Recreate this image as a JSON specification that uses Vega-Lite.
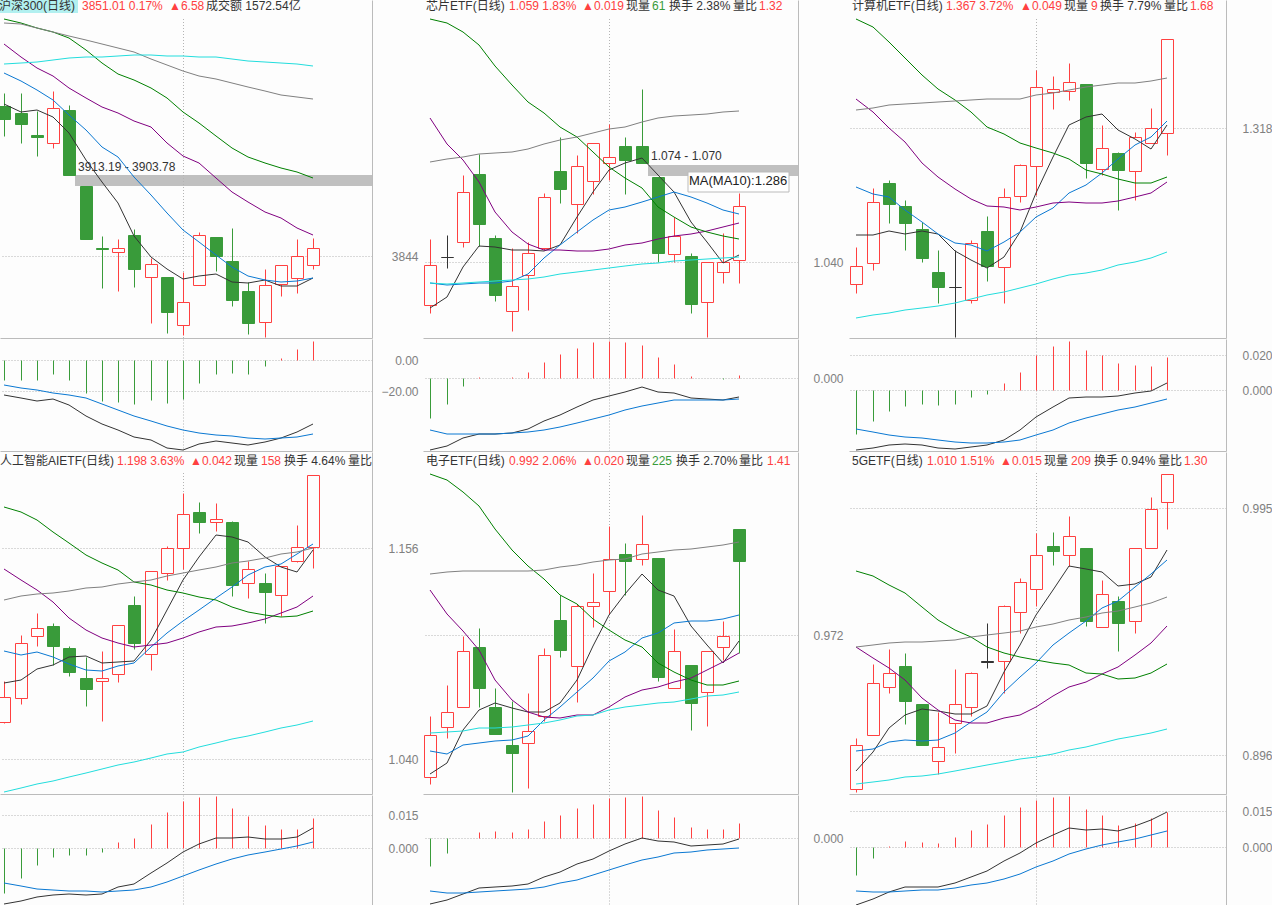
{
"$schema":"https://vega.github.io/schema/vega-lite/v6.json",
"background":"#fdfdfd","padding":0,
"config":{"view":{"stroke":null},"legend":{"disable":true},
"axis":{"title":null,"ticks":false,"domain":true,"domainColor":"#bbbbbb","domainWidth":1,"grid":true,"gridColor":"#b4b4b4","gridDash":[1,2],"gridWidth":1,"labelFont":"Liberation Sans","labelFontSize":12,"labelColor":"#808080","labelAlign":"right","labelBaseline":"middle"},
"line":{"strokeWidth":1},"rule":{"strokeWidth":1},
"text":{"font":"Liberation Sans, Noto Sans CJK SC","fontSize":12,"align":"left","baseline":"middle"}},
"datasets":{
"p1":[
{"i":0,"dir":"down","o":3971.5,"h":3982.3,"l":3946.0,"c":3960.7,"ma5":3972.9,"ma10":3999.3,"ma20":4023.9,"ma30":4045.2,"ma60":4041.8,"ma120":4006.9},
{"i":1,"dir":"down","o":3965.3,"h":3982.3,"l":3940.3,"c":3956.2,"ma5":3966.7,"ma10":3992.7,"ma20":4013.4,"ma30":4042.3,"ma60":4040.9,"ma120":4008.0},
{"i":2,"dir":"down","o":3946.8,"h":3967.2,"l":3929.0,"c":3945.4,"ma5":3968.1,"ma10":3985.1,"ma20":4003.5,"ma30":4037.5,"ma60":4037.5,"ma120":4008.9},
{"i":3,"dir":"up","o":3940.3,"h":3984.2,"l":3935.8,"c":3969.5,"ma5":3962.4,"ma10":3976.6,"ma20":3997.0,"ma30":4034.7,"ma60":4034.7,"ma120":4010.6},
{"i":4,"dir":"down","o":3968.1,"h":3972.3,"l":3913.19,"c":3913.19,"ma5":3948.3,"ma10":3963.8,"ma20":3986.5,"ma30":4029.0,"ma60":4031.3,"ma120":4012.0},
{"i":5,"dir":"down","o":3903.78,"h":3903.78,"l":3858.4,"c":3858.4,"ma5":3925.6,"ma10":3951.1,"ma20":3978.6,"ma30":4019.1,"ma60":4027.6,"ma120":4012.9},
{"i":6,"dir":"down","o":3850.5,"h":3861.0,"l":3817.1,"c":3850.2,"ma5":3907.2,"ma10":3936.9,"ma20":3970.9,"ma30":4007.8,"ma60":4024.2,"ma120":4012.9},
{"i":7,"dir":"up","o":3847.7,"h":3858.4,"l":3814.5,"c":3850.5,"ma5":3888.8,"ma10":3928.4,"ma20":3965.8,"ma30":3998.7,"ma60":4021.1,"ma120":4014.3},
{"i":8,"dir":"down","o":3861.8,"h":3866.7,"l":3817.9,"c":3832.9,"ma5":3861.0,"ma10":3911.4,"ma20":3959.0,"ma30":3993.6,"ma60":4017.1,"ma120":4014.8},
{"i":9,"dir":"up","o":3826.4,"h":3842.0,"l":3787.3,"c":3836.9,"ma5":3843.4,"ma10":3895.8,"ma20":3953.4,"ma30":3986.5,"ma60":4011.2,"ma120":4014.8},
{"i":10,"dir":"down","o":3826.1,"h":3826.1,"l":3778.8,"c":3796.4,"ma5":3832.7,"ma10":3880.3,"ma20":3939.8,"ma30":3978.0,"ma60":4006.3,"ma120":4014.3},
{"i":11,"dir":"up","o":3785.6,"h":3830.7,"l":3776.8,"c":3804.6,"ma5":3824.2,"ma10":3866.1,"ma20":3929.3,"ma30":3966.1,"ma60":4001.5,"ma120":4013.7},
{"i":12,"dir":"up","o":3819.6,"h":3864.1,"l":3819.6,"c":3861.6,"ma5":3827.0,"ma10":3856.2,"ma20":3922.8,"ma30":3956.8,"ma60":3997.0,"ma120":4013.4},
{"i":13,"dir":"down","o":3860.1,"h":3860.1,"l":3831.2,"c":3844.0,"ma5":3828.4,"ma10":3844.8,"ma20":3910.0,"ma30":3946.0,"ma60":3994.2,"ma120":4012.9},
{"i":14,"dir":"down","o":3839.7,"h":3867.5,"l":3801.8,"c":3806.6,"ma5":3822.2,"ma10":3834.9,"ma20":3898.7,"ma30":3935.5,"ma60":3990.8,"ma120":4011.4},
{"i":15,"dir":"down","o":3814.2,"h":3821.6,"l":3778.0,"c":3787.3,"ma5":3821.0,"ma10":3827.0,"ma20":3890.2,"ma30":3927.9,"ma60":3987.4,"ma120":4009.5},
{"i":16,"dir":"up","o":3788.2,"h":3832.7,"l":3775.4,"c":3819.1,"ma5":3823.6,"ma10":3823.6,"ma20":3881.7,"ma30":3922.8,"ma60":3984.5,"ma120":4008.6},
{"i":17,"dir":"up","o":3820.5,"h":3836.1,"l":3810.3,"c":3836.1,"ma5":3818.8,"ma10":3822.2,"ma20":3876.0,"ma30":3919.1,"ma60":3981.1,"ma120":4007.8},
{"i":18,"dir":"up","o":3825.6,"h":3858.4,"l":3812.8,"c":3843.7,"ma5":3818.5,"ma10":3822.7,"ma20":3867.5,"ma30":3915.7,"ma60":3979.4,"ma120":4006.9},
{"i":19,"dir":"up","o":3836.6,"h":3859.3,"l":3833.2,"c":3851.01,"ma5":3825.6,"ma10":3825.6,"ma20":3861.6,"ma30":3910.0,"ma60":3977.2,"ma120":4005.8}],
"p2":[
{"i":0,"dir":"up","o":1.0251,"h":1.0481,"l":1.0223,"c":1.0388,"ma5":1.0238,"ma10":1.0325,"ma20":1.0903,"ma30":1.1249,"ma60":1.0749,"ma120":1.0325},
{"i":1,"dir":"flat","o":1.0419,"h":1.0495,"l":1.0380,"c":1.0419,"ma5":1.0276,"ma10":1.0320,"ma20":1.0813,"ma30":1.1235,"ma60":1.0759,"ma120":1.0322},
{"i":2,"dir":"up","o":1.0471,"h":1.0705,"l":1.0453,"c":1.0644,"ma5":1.0384,"ma10":1.0323,"ma20":1.0757,"ma30":1.1204,"ma60":1.0769,"ma120":1.0325},
{"i":3,"dir":"down","o":1.0708,"h":1.0777,"l":1.0457,"c":1.0534,"ma5":1.0457,"ma10":1.0327,"ma20":1.0681,"ma30":1.1160,"ma60":1.0777,"ma120":1.0330},
{"i":4,"dir":"down","o":1.0484,"h":1.0495,"l":1.0264,"c":1.0285,"ma5":1.0454,"ma10":1.0328,"ma20":1.0574,"ma30":1.1086,"ma60":1.0780,"ma120":1.0334},
{"i":5,"dir":"up","o":1.0230,"h":1.0448,"l":1.0159,"c":1.0315,"ma5":1.0442,"ma10":1.0334,"ma20":1.0506,"ma30":1.1020,"ma60":1.0786,"ma120":1.0337},
{"i":6,"dir":"up","o":1.0356,"h":1.0469,"l":1.0232,"c":1.0430,"ma5":1.0441,"ma10":1.0358,"ma20":1.0462,"ma30":1.0961,"ma60":1.0796,"ma120":1.0342},
{"i":7,"dir":"up","o":1.0450,"h":1.0642,"l":1.0442,"c":1.0626,"ma5":1.0439,"ma10":1.0413,"ma20":1.0442,"ma30":1.0920,"ma60":1.0813,"ma120":1.0349},
{"i":8,"dir":"down","o":1.0719,"h":1.0838,"l":1.0608,"c":1.0656,"ma5":1.0460,"ma10":1.0460,"ma20":1.0441,"ma30":1.0871,"ma60":1.0827,"ma120":1.0358},
{"i":9,"dir":"up","o":1.0604,"h":1.0775,"l":1.0503,"c":1.0735,"ma5":1.0559,"ma10":1.0506,"ma20":1.0440,"ma30":1.0839,"ma60":1.0839,"ma120":1.0364},
{"i":10,"dir":"up","o":1.0685,"h":1.0815,"l":1.0639,"c":1.0815,"ma5":1.0646,"ma10":1.0547,"ma20":1.0437,"ma30":1.0786,"ma60":1.0853,"ma120":1.0371},
{"i":11,"dir":"up","o":1.0745,"h":1.0884,"l":1.0687,"c":1.0766,"ma5":1.0722,"ma10":1.0582,"ma20":1.0444,"ma30":1.0734,"ma60":1.0864,"ma120":1.0378},
{"i":12,"dir":"down","o":1.0806,"h":1.0838,"l":1.0638,"c":1.0757,"ma5":1.0745,"ma10":1.0594,"ma20":1.0460,"ma30":1.0693,"ma60":1.0874,"ma120":1.0386},
{"i":13,"dir":"down","o":1.0806,"h":1.1006,"l":1.0747,"c":1.0747,"ma5":1.0763,"ma10":1.0611,"ma20":1.0468,"ma30":1.0658,"ma60":1.0891,"ma120":1.0393},
{"i":14,"dir":"down","o":1.0698,"h":1.0698,"l":1.0399,"c":1.0432,"ma5":1.0705,"ma10":1.0629,"ma20":1.0479,"ma30":1.0594,"ma60":1.0903,"ma120":1.0398},
{"i":15,"dir":"up","o":1.0429,"h":1.0559,"l":1.0401,"c":1.0492,"ma5":1.0646,"ma10":1.0646,"ma20":1.0491,"ma30":1.0559,"ma60":1.0910,"ma120":1.0404},
{"i":16,"dir":"down","o":1.0421,"h":1.0430,"l":1.0222,"c":1.0253,"ma5":1.0541,"ma10":1.0629,"ma20":1.0498,"ma30":1.0524,"ma60":1.0915,"ma120":1.0408},
{"i":17,"dir":"up","o":1.0261,"h":1.0401,"l":1.0138,"c":1.0399,"ma5":1.0471,"ma10":1.0605,"ma20":1.0510,"ma30":1.0504,"ma60":1.0919,"ma120":1.0411},
{"i":18,"dir":"up","o":1.0366,"h":1.0500,"l":1.0327,"c":1.0399,"ma5":1.0395,"ma10":1.0582,"ma20":1.0521,"ma30":1.0491,"ma60":1.0924,"ma120":1.0413},
{"i":19,"dir":"up","o":1.0408,"h":1.0642,"l":1.0327,"c":1.0595,"ma5":1.0425,"ma10":1.0568,"ma20":1.0535,"ma30":1.0482,"ma60":1.0927,"ma120":1.0416}],
"p3":[
{"i":0,"dir":"up","o":1.2324,"h":1.2526,"l":1.2273,"c":1.2419,"ma5":1.2590,"ma10":1.2857,"ma20":1.3338,"ma30":1.3778,"ma60":1.3277,"ma120":1.2133},
{"i":1,"dir":"up","o":1.2439,"h":1.2848,"l":1.2399,"c":1.2771,"ma5":1.2590,"ma10":1.2817,"ma20":1.3270,"ma30":1.3737,"ma60":1.3292,"ma120":1.2151},
{"i":2,"dir":"down","o":1.2877,"h":1.2894,"l":1.2657,"c":1.2762,"ma5":1.2613,"ma10":1.2802,"ma20":1.3178,"ma30":1.3655,"ma60":1.3305,"ma120":1.2164},
{"i":3,"dir":"down","o":1.2751,"h":1.2784,"l":1.2509,"c":1.2657,"ma5":1.2595,"ma10":1.2729,"ma20":1.3105,"ma30":1.3563,"ma60":1.3312,"ma120":1.2179},
{"i":4,"dir":"down","o":1.2624,"h":1.2665,"l":1.2443,"c":1.2465,"ma5":1.2613,"ma10":1.2665,"ma20":1.2989,"ma30":1.3471,"ma60":1.3319,"ma120":1.2190},
{"i":5,"dir":"down","o":1.2388,"h":1.2509,"l":1.2217,"c":1.2305,"ma5":1.2595,"ma10":1.2595,"ma20":1.2912,"ma30":1.3393,"ma60":1.3325,"ma120":1.2203},
{"i":6,"dir":"flat","o":1.2305,"h":1.2509,"l":1.2030,"c":1.2304,"ma5":1.2504,"ma10":1.2546,"ma20":1.2843,"ma30":1.3334,"ma60":1.3330,"ma120":1.2219},
{"i":7,"dir":"up","o":1.2236,"h":1.2564,"l":1.2219,"c":1.2546,"ma5":1.2454,"ma10":1.2537,"ma20":1.2790,"ma30":1.3270,"ma60":1.3334,"ma120":1.2239},
{"i":8,"dir":"down","o":1.2613,"h":1.2696,"l":1.2338,"c":1.2421,"ma5":1.2408,"ma10":1.2504,"ma20":1.2753,"ma30":1.3187,"ma60":1.3338,"ma120":1.2261},
{"i":9,"dir":"up","o":1.2417,"h":1.2848,"l":1.2217,"c":1.2799,"ma5":1.2472,"ma10":1.2551,"ma20":1.2747,"ma30":1.3145,"ma60":1.3338,"ma120":1.2276},
{"i":10,"dir":"up","o":1.2808,"h":1.2982,"l":1.2773,"c":1.2975,"ma5":1.2610,"ma10":1.2606,"ma20":1.2727,"ma30":1.3096,"ma60":1.3341,"ma120":1.2298},
{"i":11,"dir":"up","o":1.2973,"h":1.3499,"l":1.2812,"c":1.3404,"ma5":1.2821,"ma10":1.2692,"ma20":1.2747,"ma30":1.3068,"ma60":1.3360,"ma120":1.2322},
{"i":12,"dir":"up","o":1.3380,"h":1.3466,"l":1.3285,"c":1.3393,"ma5":1.3022,"ma10":1.2742,"ma20":1.2768,"ma30":1.3041,"ma60":1.3372,"ma120":1.2348},
{"i":13,"dir":"up","o":1.3382,"h":1.3538,"l":1.3334,"c":1.3431,"ma5":1.3198,"ma10":1.2821,"ma20":1.2771,"ma30":1.3008,"ma60":1.3389,"ma120":1.2370},
{"i":14,"dir":"down","o":1.3422,"h":1.3422,"l":1.2905,"c":1.2988,"ma5":1.3242,"ma10":1.2867,"ma20":1.2766,"ma30":1.2949,"ma60":1.3404,"ma120":1.2384},
{"i":15,"dir":"up","o":1.2956,"h":1.3197,"l":1.2922,"c":1.3068,"ma5":1.3257,"ma10":1.2931,"ma20":1.2766,"ma30":1.2927,"ma60":1.3418,"ma120":1.2399},
{"i":16,"dir":"down","o":1.3041,"h":1.3046,"l":1.2729,"c":1.2949,"ma5":1.3169,"ma10":1.3008,"ma20":1.2777,"ma30":1.2898,"ma60":1.3426,"ma120":1.2425},
{"i":17,"dir":"up","o":1.2945,"h":1.3158,"l":1.2786,"c":1.3129,"ma5":1.3118,"ma10":1.3087,"ma20":1.2799,"ma30":1.2877,"ma60":1.3429,"ma120":1.2443},
{"i":18,"dir":"up","o":1.3099,"h":1.3290,"l":1.3096,"c":1.3178,"ma5":1.3063,"ma10":1.3132,"ma20":1.2824,"ma30":1.2879,"ma60":1.3438,"ma120":1.2467},
{"i":19,"dir":"up","o":1.3151,"h":1.3668,"l":1.3032,"c":1.3668,"ma5":1.3197,"ma10":1.3219,"ma20":1.2885,"ma30":1.2909,"ma60":1.3453,"ma120":1.2496}],
"p4":[
{"i":0,"dir":"up","o":1.0605,"h":1.0829,"l":1.0600,"c":1.0739,"ma5":1.0816,"ma10":1.0992,"ma20":1.1443,"ma30":1.1784,"ma60":1.1273,"ma120":1.0217},
{"i":1,"dir":"up","o":1.0737,"h":1.1082,"l":1.0703,"c":1.1036,"ma5":1.0835,"ma10":1.0970,"ma20":1.1385,"ma30":1.1757,"ma60":1.1297,"ma120":1.0239},
{"i":2,"dir":"up","o":1.1075,"h":1.1203,"l":1.1022,"c":1.1119,"ma5":1.0895,"ma10":1.0987,"ma20":1.1330,"ma30":1.1715,"ma60":1.1308,"ma120":1.0261},
{"i":3,"dir":"down","o":1.1132,"h":1.1148,"l":1.0917,"c":1.1023,"ma5":1.0917,"ma10":1.0963,"ma20":1.1265,"ma30":1.1650,"ma60":1.1315,"ma120":1.0281},
{"i":4,"dir":"down","o":1.1009,"h":1.1022,"l":1.0857,"c":1.0880,"ma5":1.0959,"ma10":1.0921,"ma20":1.1174,"ma30":1.1586,"ma60":1.1324,"ma120":1.0303},
{"i":5,"dir":"down","o":1.0846,"h":1.0963,"l":1.0692,"c":1.0787,"ma5":1.0965,"ma10":1.0891,"ma20":1.1110,"ma30":1.1522,"ma60":1.1339,"ma120":1.0325},
{"i":6,"dir":"up","o":1.0831,"h":1.0994,"l":1.0609,"c":1.0844,"ma5":1.0926,"ma10":1.0882,"ma20":1.1064,"ma30":1.1476,"ma60":1.1348,"ma120":1.0345},
{"i":7,"dir":"up","o":1.0866,"h":1.1135,"l":1.0824,"c":1.1135,"ma5":1.0934,"ma10":1.0912,"ma20":1.1036,"ma30":1.1440,"ma60":1.1363,"ma120":1.0367},
{"i":8,"dir":"down","o":1.1245,"h":1.1297,"l":1.1003,"c":1.1040,"ma5":1.0937,"ma10":1.0926,"ma20":1.1018,"ma30":1.1375,"ma60":1.1374,"ma120":1.0385},
{"i":9,"dir":"up","o":1.0976,"h":1.1432,"l":1.0890,"c":1.1432,"ma5":1.1055,"ma10":1.1018,"ma20":1.1029,"ma30":1.1357,"ma60":1.1385,"ma120":1.0404},
{"i":10,"dir":"up","o":1.1421,"h":1.1570,"l":1.1385,"c":1.1559,"ma5":1.1220,"ma10":1.1091,"ma20":1.1040,"ma30":1.1330,"ma60":1.1407,"ma120":1.0428},
{"i":11,"dir":"up","o":1.1559,"h":1.1863,"l":1.1445,"c":1.1746,"ma5":1.1385,"ma10":1.1161,"ma20":1.1064,"ma30":1.1311,"ma60":1.1421,"ma120":1.0440},
{"i":12,"dir":"down","o":1.1759,"h":1.1814,"l":1.1643,"c":1.1705,"ma5":1.1513,"ma10":1.1220,"ma20":1.1100,"ma30":1.1293,"ma60":1.1440,"ma120":1.0468},
{"i":13,"dir":"up","o":1.1705,"h":1.1808,"l":1.1654,"c":1.1718,"ma5":1.1630,"ma10":1.1284,"ma20":1.1124,"ma30":1.1275,"ma60":1.1458,"ma120":1.0490},
{"i":14,"dir":"down","o":1.1704,"h":1.1709,"l":1.1297,"c":1.1357,"ma5":1.1619,"ma10":1.1348,"ma20":1.1132,"ma30":1.1234,"ma60":1.1476,"ma120":1.0508},
{"i":15,"dir":"up","o":1.1370,"h":1.1489,"l":1.1286,"c":1.1443,"ma5":1.1595,"ma10":1.1412,"ma20":1.1150,"ma30":1.1210,"ma60":1.1491,"ma120":1.0527},
{"i":16,"dir":"down","o":1.1368,"h":1.1423,"l":1.1150,"c":1.1319,"ma5":1.1513,"ma10":1.1454,"ma20":1.1168,"ma30":1.1192,"ma60":1.1507,"ma120":1.0550},
{"i":17,"dir":"up","o":1.1304,"h":1.1462,"l":1.1188,"c":1.1460,"ma5":1.1458,"ma10":1.1473,"ma20":1.1201,"ma30":1.1179,"ma60":1.1526,"ma120":1.0569},
{"i":18,"dir":"up","o":1.1491,"h":1.1685,"l":1.1485,"c":1.1564,"ma5":1.1427,"ma10":1.1528,"ma20":1.1234,"ma30":1.1188,"ma60":1.1540,"ma120":1.0587},
{"i":19,"dir":"up","o":1.1564,"h":1.1960,"l":1.1451,"c":1.1960,"ma5":1.1550,"ma10":1.1581,"ma20":1.1297,"ma30":1.1216,"ma60":1.1559,"ma120":1.0607}],
"p5":[
{"i":0,"dir":"up","o":0.9437,"h":0.9558,"l":0.9422,"c":0.9521,"ma5":0.9443,"ma10":0.9489,"ma20":0.9809,"ma30":1.0041,"ma60":0.9841,"ma120":0.9525},
{"i":1,"dir":"up","o":0.9537,"h":0.9620,"l":0.9515,"c":0.9567,"ma5":0.9465,"ma10":0.9481,"ma20":0.9763,"ma30":1.0030,"ma60":0.9845,"ma120":0.9527},
{"i":2,"dir":"up","o":0.9575,"h":0.9718,"l":0.9575,"c":0.9689,"ma5":0.9530,"ma10":0.9500,"ma20":0.9727,"ma30":1.0007,"ma60":0.9847,"ma120":0.9529},
{"i":3,"dir":"down","o":0.9696,"h":0.9734,"l":0.9576,"c":0.9614,"ma5":0.9570,"ma10":0.9505,"ma20":0.9690,"ma30":0.9977,"ma60":0.9847,"ma120":0.9533},
{"i":4,"dir":"down","o":0.9576,"h":0.9614,"l":0.9522,"c":0.9522,"ma5":0.9583,"ma10":0.9508,"ma20":0.9630,"ma30":0.9933,"ma60":0.9847,"ma120":0.9535},
{"i":5,"dir":"down","o":0.9500,"h":0.9589,"l":0.9407,"c":0.9485,"ma5":0.9573,"ma10":0.9510,"ma20":0.9590,"ma30":0.9890,"ma60":0.9847,"ma120":0.9537},
{"i":6,"dir":"up","o":0.9505,"h":0.9604,"l":0.9415,"c":0.9529,"ma5":0.9567,"ma10":0.9518,"ma20":0.9567,"ma30":0.9857,"ma60":0.9847,"ma120":0.9540},
{"i":7,"dir":"up","o":0.9558,"h":0.9693,"l":0.9549,"c":0.9681,"ma5":0.9565,"ma10":0.9550,"ma20":0.9557,"ma30":0.9833,"ma60":0.9851,"ma120":0.9545},
{"i":8,"dir":"down","o":0.9750,"h":0.9799,"l":0.9675,"c":0.9690,"ma5":0.9583,"ma10":0.9577,"ma20":0.9555,"ma30":0.9799,"ma60":0.9855,"ma120":0.9551},
{"i":9,"dir":"up","o":0.9659,"h":0.9783,"l":0.9585,"c":0.9777,"ma5":0.9630,"ma10":0.9607,"ma20":0.9560,"ma30":0.9782,"ma60":0.9860,"ma120":0.9559},
{"i":10,"dir":"up","o":0.9777,"h":0.9844,"l":0.9735,"c":0.9785,"ma5":0.9697,"ma10":0.9633,"ma20":0.9561,"ma30":0.9753,"ma60":0.9865,"ma120":0.9561},
{"i":11,"dir":"up","o":0.9807,"h":0.9938,"l":0.9763,"c":0.9873,"ma5":0.9760,"ma10":0.9667,"ma20":0.9577,"ma30":0.9730,"ma60":0.9870,"ma120":0.9570},
{"i":12,"dir":"down","o":0.9882,"h":0.9904,"l":0.9799,"c":0.9868,"ma5":0.9803,"ma10":0.9685,"ma20":0.9595,"ma30":0.9710,"ma60":0.9873,"ma120":0.9575},
{"i":13,"dir":"up","o":0.9873,"h":0.9960,"l":0.9860,"c":0.9903,"ma5":0.9841,"ma10":0.9713,"ma20":0.9610,"ma30":0.9695,"ma60":0.9882,"ma120":0.9580},
{"i":14,"dir":"down","o":0.9874,"h":0.9874,"l":0.9628,"c":0.9636,"ma5":0.9810,"ma10":0.9723,"ma20":0.9615,"ma30":0.9663,"ma60":0.9885,"ma120":0.9583},
{"i":15,"dir":"up","o":0.9613,"h":0.9732,"l":0.9613,"c":0.9689,"ma5":0.9797,"ma10":0.9743,"ma20":0.9627,"ma30":0.9647,"ma60":0.9889,"ma120":0.9587},
{"i":16,"dir":"down","o":0.9660,"h":0.9660,"l":0.9531,"c":0.9584,"ma5":0.9737,"ma10":0.9749,"ma20":0.9633,"ma30":0.9630,"ma60":0.9893,"ma120":0.9592},
{"i":17,"dir":"up","o":0.9605,"h":0.9689,"l":0.9538,"c":0.9689,"ma5":0.9700,"ma10":0.9749,"ma20":0.9650,"ma30":0.9621,"ma60":0.9896,"ma120":0.9598},
{"i":18,"dir":"up","o":0.9695,"h":0.9748,"l":0.9671,"c":0.9719,"ma5":0.9663,"ma10":0.9753,"ma20":0.9665,"ma30":0.9621,"ma60":0.9900,"ma120":0.9601},
{"i":19,"dir":"down","o":0.9932,"h":0.9932,"l":0.9683,"c":0.9868,"ma5":0.9708,"ma10":0.9761,"ma20":0.9683,"ma30":0.9629,"ma60":0.9905,"ma120":0.9607}],
"p6":[
{"i":0,"dir":"up","o":0.8823,"h":0.9028,"l":0.8813,"c":0.8999,"ma5":0.8897,"ma10":0.8976,"ma20":0.9393,"ma30":0.9695,"ma60":0.9393,"ma120":0.8843},
{"i":1,"dir":"up","o":0.9041,"h":0.9324,"l":0.9041,"c":0.9247,"ma5":0.8973,"ma10":0.8983,"ma20":0.9347,"ma30":0.9676,"ma60":0.9401,"ma120":0.8851},
{"i":2,"dir":"up","o":0.9233,"h":0.9384,"l":0.9208,"c":0.9287,"ma5":0.9067,"ma10":0.9013,"ma20":0.9307,"ma30":0.9640,"ma60":0.9407,"ma120":0.8860},
{"i":3,"dir":"down","o":0.9316,"h":0.9368,"l":0.9084,"c":0.9177,"ma5":0.9120,"ma10":0.9019,"ma20":0.9260,"ma30":0.9607,"ma60":0.9411,"ma120":0.8871},
{"i":4,"dir":"down","o":0.9164,"h":0.9164,"l":0.9001,"c":0.9001,"ma5":0.9143,"ma10":0.9017,"ma20":0.9187,"ma30":0.9553,"ma60":0.9412,"ma120":0.8877},
{"i":5,"dir":"up","o":0.8937,"h":0.9132,"l":0.8884,"c":0.8991,"ma5":0.9136,"ma10":0.9019,"ma20":0.9140,"ma30":0.9500,"ma60":0.9415,"ma120":0.8884},
{"i":6,"dir":"up","o":0.9089,"h":0.9304,"l":0.8968,"c":0.9163,"ma5":0.9123,"ma10":0.9047,"ma20":0.9100,"ma30":0.9460,"ma60":0.9420,"ma120":0.8895},
{"i":7,"dir":"up","o":0.9153,"h":0.9292,"l":0.9117,"c":0.9287,"ma5":0.9123,"ma10":0.9093,"ma20":0.9087,"ma30":0.9433,"ma60":0.9431,"ma120":0.8908},
{"i":8,"dir":"flat","o":0.9335,"h":0.9488,"l":0.9309,"c":0.9333,"ma5":0.9156,"ma10":0.9133,"ma20":0.9087,"ma30":0.9393,"ma60":0.9440,"ma120":0.8920},
{"i":9,"dir":"up","o":0.9335,"h":0.9560,"l":0.9207,"c":0.9555,"ma5":0.9293,"ma10":0.9213,"ma20":0.9109,"ma30":0.9369,"ma60":0.9448,"ma120":0.8933},
{"i":10,"dir":"up","o":0.9533,"h":0.9667,"l":0.9449,"c":0.9651,"ma5":0.9400,"ma10":0.9273,"ma20":0.9120,"ma30":0.9353,"ma60":0.9457,"ma120":0.8943},
{"i":11,"dir":"up","o":0.9623,"h":0.9848,"l":0.9556,"c":0.9759,"ma5":0.9520,"ma10":0.9327,"ma20":0.9153,"ma30":0.9340,"ma60":0.9471,"ma120":0.8953},
{"i":12,"dir":"down","o":0.9796,"h":0.9852,"l":0.9720,"c":0.9777,"ma5":0.9620,"ma10":0.9400,"ma20":0.9196,"ma30":0.9327,"ma60":0.9484,"ma120":0.8964},
{"i":13,"dir":"up","o":0.9759,"h":0.9916,"l":0.9716,"c":0.9835,"ma5":0.9715,"ma10":0.9449,"ma20":0.9233,"ma30":0.9319,"ma60":0.9500,"ma120":0.8980},
{"i":14,"dir":"down","o":0.9788,"h":0.9788,"l":0.9476,"c":0.9497,"ma5":0.9703,"ma10":0.9496,"ma20":0.9253,"ma30":0.9289,"ma60":0.9513,"ma120":0.8993},
{"i":15,"dir":"up","o":0.9473,"h":0.9660,"l":0.9473,"c":0.9603,"ma5":0.9693,"ma10":0.9547,"ma20":0.9284,"ma30":0.9283,"ma60":0.9527,"ma120":0.9007},
{"i":16,"dir":"down","o":0.9576,"h":0.9596,"l":0.9376,"c":0.9488,"ma5":0.9637,"ma10":0.9577,"ma20":0.9313,"ma30":0.9263,"ma60":0.9537,"ma120":0.9023},
{"i":17,"dir":"up","o":0.9495,"h":0.9787,"l":0.9448,"c":0.9787,"ma5":0.9643,"ma10":0.9633,"ma20":0.9360,"ma30":0.9268,"ma60":0.9553,"ma120":0.9036},
{"i":18,"dir":"up","o":0.9787,"h":0.9992,"l":0.9787,"c":0.9945,"ma5":0.9671,"ma10":0.9684,"ma20":0.9409,"ma30":0.9289,"ma60":0.9567,"ma120":0.9049},
{"i":19,"dir":"up","o":0.9973,"h":1.0083,"l":0.9864,"c":1.0083,"ma5":0.9780,"ma10":0.9740,"ma20":0.9477,"ma30":0.9324,"ma60":0.9591,"ma120":0.9063}],
"m1":[
{"i":0,"hist":-12.7,"dif":-22.6,"dea":-16.1},{"i":1,"hist":-12.7,"dif":-24.5,"dea":-17.8},{"i":2,"hist":-12.7,"dif":-26.4,"dea":-19.4},{"i":3,"hist":-8.8,"dif":-25.2,"dea":-20.9},{"i":4,"hist":-12.7,"dif":-29.0,"dea":-22.6},{"i":5,"hist":-20.9,"dif":-35.7,"dea":-24.5},{"i":6,"hist":-26.0,"dif":-41.3,"dea":-28.2},{"i":7,"hist":-26.9,"dif":-44.7,"dea":-32.3},{"i":8,"hist":-28.2,"dif":-49.7,"dea":-35.9},{"i":9,"hist":-25.6,"dif":-51.4,"dea":-39.1},{"i":10,"hist":-27.5,"dif":-56.3,"dea":-42.4},{"i":11,"hist":-24.9,"dif":-57.8,"dea":-45.2},{"i":12,"hist":-14.6,"dif":-54.0,"dea":-47.1},{"i":13,"hist":-8.8,"dif":-52.0,"dea":-48.2},{"i":14,"hist":-8.2,"dif":-53.3,"dea":-49.0},{"i":15,"hist":-8.8,"dif":-54.8,"dea":-50.3},{"i":16,"hist":-3.7,"dif":-52.9,"dea":-51.0},{"i":17,"hist":1.5,"dif":-49.9,"dea":-50.3},{"i":18,"hist":7.3,"dif":-46.0,"dea":-49.7},{"i":19,"hist":12.5,"dif":-41.3,"dea":-47.7}],
"m2":[
{"i":0,"hist":-0.0118,"dif":-0.0216,"dea":-0.0156},{"i":1,"hist":-0.0077,"dif":-0.0203,"dea":-0.0166},{"i":2,"hist":-0.0023,"dif":-0.0180,"dea":-0.0168},{"i":3,"hist":0.0004,"dif":-0.0166,"dea":-0.0168},{"i":4,"hist":0.0001,"dif":-0.0166,"dea":-0.0168},{"i":5,"hist":0.0004,"dif":-0.0163,"dea":-0.0165},{"i":6,"hist":0.0019,"dif":-0.0153,"dea":-0.0160},{"i":7,"hist":0.0049,"dif":-0.0128,"dea":-0.0156},{"i":8,"hist":0.0073,"dif":-0.0110,"dea":-0.0145},{"i":9,"hist":0.0091,"dif":-0.0085,"dea":-0.0135},{"i":10,"hist":0.0109,"dif":-0.0065,"dea":-0.0123},{"i":11,"hist":0.0113,"dif":-0.0052,"dea":-0.0110},{"i":12,"hist":0.0109,"dif":-0.0040,"dea":-0.0094},{"i":13,"hist":0.0100,"dif":-0.0027,"dea":-0.0082},{"i":14,"hist":0.0064,"dif":-0.0040,"dea":-0.0073},{"i":15,"hist":0.0043,"dif":-0.0043,"dea":-0.0066},{"i":16,"hist":0.0007,"dif":-0.0060,"dea":-0.0066},{"i":17,"hist":0,"dif":-0.0063,"dea":-0.0066},{"i":18,"hist":-0.0001,"dif":-0.0066,"dea":-0.0066},{"i":19,"hist":0.0010,"dif":-0.0057,"dea":-0.0062}],
"m3":[
{"i":0,"hist":-0.0254,"dif":-0.0348,"dea":-0.0223},{"i":1,"hist":-0.0179,"dif":-0.0333,"dea":-0.0244},{"i":2,"hist":-0.0121,"dif":-0.0317,"dea":-0.0260},{"i":3,"hist":-0.0092,"dif":-0.0313,"dea":-0.0273},{"i":4,"hist":-0.0081,"dif":-0.0319,"dea":-0.0279},{"i":5,"hist":-0.0087,"dif":-0.0337,"dea":-0.0287},{"i":6,"hist":-0.0081,"dif":-0.0342,"dea":-0.0302},{"i":7,"hist":-0.0040,"dif":-0.0327,"dea":-0.0308},{"i":8,"hist":-0.0023,"dif":-0.0317,"dea":-0.0308},{"i":9,"hist":0.0040,"dif":-0.0288,"dea":-0.0302},{"i":10,"hist":0.0104,"dif":-0.0231,"dea":-0.0288},{"i":11,"hist":0.0202,"dif":-0.0154,"dea":-0.0260},{"i":12,"hist":0.0254,"dif":-0.0096,"dea":-0.0231},{"i":13,"hist":0.0283,"dif":-0.0048,"dea":-0.0190},{"i":14,"hist":0.0231,"dif":-0.0042,"dea":-0.0163},{"i":15,"hist":0.0202,"dif":-0.0038,"dea":-0.0140},{"i":16,"hist":0.0156,"dif":-0.0037,"dea":-0.0117},{"i":17,"hist":0.0144,"dif":-0.0019,"dea":-0.0100},{"i":18,"hist":0.0138,"dif":-0.0006,"dea":-0.0077},{"i":19,"hist":0.0190,"dif":0.0038,"dea":-0.0054}],
"m4":[
{"i":0,"hist":-0.01995,"dif":-0.0252,"dea":-0.01545},{"i":1,"hist":-0.0132,"dif":-0.0237,"dea":-0.0171},{"i":2,"hist":-0.00735,"dif":-0.02205,"dea":-0.01815},{"i":3,"hist":-0.00375,"dif":-0.02085,"dea":-0.0186},{"i":4,"hist":-0.00285,"dif":-0.0207,"dea":-0.01905},{"i":5,"hist":-0.00285,"dif":-0.02115,"dea":-0.01935},{"i":6,"hist":-0.0015,"dif":-0.0207,"dea":-0.0198},{"i":7,"hist":0.00285,"dif":-0.01755,"dea":-0.01935},{"i":8,"hist":0.00465,"dif":-0.0159,"dea":-0.01875},{"i":9,"hist":0.01095,"dif":-0.01095,"dea":-0.0174},{"i":10,"hist":0.01635,"dif":-0.00675,"dea":-0.01515},{"i":11,"hist":0.0213,"dif":-0.0018,"dea":-0.0126},{"i":12,"hist":0.0231,"dif":0.0018,"dea":-0.0099},{"i":13,"hist":0.02355,"dif":0.0048,"dea":-0.00705},{"i":14,"hist":0.01815,"dif":0.0045,"dea":-0.00495},{"i":15,"hist":0.01455,"dif":0.00495,"dea":-0.003},{"i":16,"hist":0.0105,"dif":0.00405,"dea":-0.0015},{"i":17,"hist":0.0087,"dif":0.00405,"dea":-0.00015},{"i":18,"hist":0.0087,"dif":0.0051,"dea":0.00105},{"i":19,"hist":0.01365,"dif":0.00915,"dea":0.0027}],
"m5":[
{"i":0,"hist":-0.0111,"dif":-0.0265,"dea":-0.0212},{"i":1,"hist":-0.0057,"dif":-0.0248,"dea":-0.0220},{"i":2,"hist":0,"dif":-0.0221,"dea":-0.0220},{"i":3,"hist":0.0025,"dif":-0.0200,"dea":-0.0216},{"i":4,"hist":0.0029,"dif":-0.0196,"dea":-0.0212},{"i":5,"hist":0.0025,"dif":-0.0192,"dea":-0.0208},{"i":6,"hist":0.0037,"dif":-0.0184,"dea":-0.0204},{"i":7,"hist":0.0069,"dif":-0.0156,"dea":-0.0196},{"i":8,"hist":0.0093,"dif":-0.0136,"dea":-0.0180},{"i":9,"hist":0.0121,"dif":-0.0104,"dea":-0.0167},{"i":10,"hist":0.0137,"dif":-0.0083,"dea":-0.0148},{"i":11,"hist":0.0161,"dif":-0.0049,"dea":-0.0128},{"i":12,"hist":0.0165,"dif":-0.0024,"dea":-0.0108},{"i":13,"hist":0.0169,"dif":0,"dea":-0.0087},{"i":14,"hist":0.0113,"dif":-0.0012,"dea":-0.0073},{"i":15,"hist":0.0085,"dif":-0.0016,"dea":-0.0060},{"i":16,"hist":0.0045,"dif":-0.0032,"dea":-0.0056},{"i":17,"hist":0.0037,"dif":-0.0028,"dea":-0.0048},{"i":18,"hist":0.0037,"dif":-0.0024,"dea":-0.0044},{"i":19,"hist":0.0061,"dif":-0.0004,"dea":-0.0037}],
"m6":[
{"i":0,"hist":-0.0115,"dif":-0.0239,"dea":-0.0183},{"i":1,"hist":-0.0044,"dif":-0.0214,"dea":-0.0188},{"i":2,"hist":0.0006,"dif":-0.0186,"dea":-0.0188},{"i":3,"hist":0.0026,"dif":-0.0167,"dea":-0.0182},{"i":4,"hist":0.0022,"dif":-0.0167,"dea":-0.0179},{"i":5,"hist":0.0018,"dif":-0.0167,"dea":-0.0179},{"i":6,"hist":0.0043,"dif":-0.0150,"dea":-0.0171},{"i":7,"hist":0.0072,"dif":-0.0125,"dea":-0.0158},{"i":8,"hist":0.0097,"dif":-0.0097,"dea":-0.0147},{"i":9,"hist":0.0135,"dif":-0.0057,"dea":-0.0132},{"i":10,"hist":0.0168,"dif":-0.0022,"dea":-0.0111},{"i":11,"hist":0.0197,"dif":0.0017,"dea":-0.0083},{"i":12,"hist":0.0210,"dif":0.0050,"dea":-0.0057},{"i":13,"hist":0.0214,"dif":0.0079,"dea":-0.0029},{"i":14,"hist":0.0160,"dif":0.0071,"dea":-0.0007},{"i":15,"hist":0.0135,"dif":0.0075,"dea":0.0008},{"i":16,"hist":0.0093,"dif":0.0067,"dea":0.0021},{"i":17,"hist":0.0101,"dif":0.0089,"dea":0.0033},{"i":18,"hist":0.0122,"dif":0.0114,"dea":0.0050},{"i":19,"hist":0.0147,"dif":0.0147,"dea":0.0067}]
},
"columns":3,"align":"each","bounds":"flush","spacing":{"row":1,"column":51},
"concat":[
{"width":372,"height":338,"data":{"name":"p1"},"encoding":{"x":{"field":"i","type":"quantitative","scale":{"domain":[-0.266,22.61],"padding":0,"nice":false,"zero":false,"round":true},"axis":{"values":[],"labels":false}}},"layer":[
{"data":{"values":[{"i":-0.266,"i2":4.53,"top":4061.6,"bot":4050.6}]},"mark":{"type":"rect","color":"#b2f0f0"},"encoding":{"x2":{"field":"i2"},"y":{"field":"top","type":"quantitative"},"y2":{"field":"bot"}}},
{"data":{"values":[{"i":4.35,"i2":22.61,"top":3913.19,"bot":3903.78}]},"mark":{"type":"rect","color":"#c0c0c0"},"encoding":{"x2":{"field":"i2"},"y":{"field":"top","type":"quantitative"},"y2":{"field":"bot"}}},
{"data":{"values":[{"i":11,"top":4045.5,"bot":3774.3}]},"mark":{"type":"rule","color":"#b4b4b4","strokeDash":[1,2],"xOffset":0.5},"encoding":{"y":{"field":"top","type":"quantitative"},"y2":{"field":"bot"}}},
{"mark":{"type":"rule","xOffset":0.5,"yOffset":0.5,"y2Offset":0.5},"encoding":{"y":{"field":"l","type":"quantitative","scale":{"domain":[3774.3,4061.6],"nice":false,"zero":false,"round":true},"axis":{"orient":"right","values":[3844],"format":".0f","labelPadding":46}},"y2":{"field":"h"},"stroke":{"field":"dir","type":"nominal","scale":{"domain":["up","down","flat"],"range":["#ff4040","#399b3a","#333333"]}}}},
{"mark":{"type":"bar","width":12,"strokeWidth":1,"clip":true,"xOffset":0.5,"yOffset":0.5,"y2Offset":0.5},"encoding":{"y":{"field":"o","type":"quantitative"},"y2":{"field":"c"},"stroke":{"field":"dir","type":"nominal","scale":{"domain":["up","down","flat"],"range":["#ff4040","#399b3a","#333333"]}},"fill":{"field":"dir","type":"nominal","scale":{"domain":["up","down","flat"],"range":["#fdfdfd","#399b3a","#333333"]}}}},
{"data":{"values":[{"i":4.53,"p":3920,"t":"3913.19 - 3903.78"}]},"mark":{"type":"text","color":"#333333"},"encoding":{"y":{"field":"p","type":"quantitative"},"text":{"field":"t"}}},
{"transform":[{"fold":["ma5","ma10","ma20","ma30","ma60","ma120"]}],"mark":"line","encoding":{"y":{"field":"value","type":"quantitative"},"color":{"field":"key","type":"nominal","scale":{"domain":["ma5","ma10","ma20","ma30","ma60","ma120","dif","dea"],"range":["#333333","#0a78d2","#800080","#008000","#808080","#22dddd","#333333","#0a78d2"]}}}},
{"data":{"values":[{"i":-0.33,"p":4056.5,"t":"沪深300(日线)","tone":"dark"},{"i":4.78,"p":4056.5,"t":"3851.01 0.17%","tone":"red"},{"i":10.13,"p":4056.5,"t":"▲6.58","tone":"red"},{"i":12.4,"p":4056.5,"t":"成交额 1572.54亿","tone":"dark"}]},"mark":{"type":"text","clip":true},"encoding":{"y":{"field":"p","type":"quantitative"},"text":{"field":"t"},"color":{"condition":[{"test":"datum.tone=='red'","value":"#ff4040"},{"test":"datum.tone=='green'","value":"#399b3a"}],"value":"#333333"}}}
]},
{"width":375,"height":338,"data":{"name":"p2"},"encoding":{"x":{"field":"i","type":"quantitative","scale":{"domain":[-0.451,22.61],"padding":0,"nice":false,"zero":false,"round":true},"axis":{"values":[],"labels":false}}},"layer":[
{"data":{"values":[{}]},"mark":{"type":"rule","color":"#bbbbbb","xOffset":0.5},"encoding":{"x":{"datum":-0.451,"type":"quantitative"}}},
{"data":{"values":[{"i":13.39,"i2":22.61,"top":1.074,"bot":1.070}]},"mark":{"type":"rect","color":"#c0c0c0"},"encoding":{"x2":{"field":"i2"},"y":{"field":"top","type":"quantitative"},"y2":{"field":"bot"}}},
{"data":{"values":[{"i":11,"top":1.1251,"bot":1.0134}]},"mark":{"type":"rule","color":"#b4b4b4","strokeDash":[1,2],"xOffset":0.5},"encoding":{"y":{"field":"top","type":"quantitative"},"y2":{"field":"bot"}}},
{"mark":{"type":"rule","xOffset":0.5,"yOffset":0.5,"y2Offset":0.5},"encoding":{"y":{"field":"l","type":"quantitative","scale":{"domain":[1.0134,1.1317],"nice":false,"zero":false,"round":true},"axis":{"orient":"right","values":[1.04],"format":".3f","labelPadding":45}},"y2":{"field":"h"},"stroke":{"field":"dir","type":"nominal","scale":{"domain":["up","down","flat"],"range":["#ff4040","#399b3a","#333333"]}}}},
{"mark":{"type":"bar","width":12,"strokeWidth":1,"xOffset":0.5,"yOffset":0.5,"y2Offset":0.5},"encoding":{"y":{"field":"o","type":"quantitative"},"y2":{"field":"c"},"stroke":{"field":"dir","type":"nominal","scale":{"domain":["up","down","flat"],"range":["#ff4040","#399b3a","#333333"]}},"fill":{"field":"dir","type":"nominal","scale":{"domain":["up","down","flat"],"range":["#fdfdfd","#399b3a","#333333"]}}}},
{"data":{"values":[{"i":13.55,"p":1.0772,"t":"1.074 - 1.070"}]},"mark":{"type":"text","color":"#333333"},"encoding":{"y":{"field":"p","type":"quantitative"},"text":{"field":"t"}}},
{"transform":[{"fold":["ma5","ma10","ma20","ma30","ma60","ma120"]}],"mark":"line","encoding":{"y":{"field":"value","type":"quantitative"},"color":{"field":"key","type":"nominal","scale":{"domain":["ma5","ma10","ma20","ma30","ma60","ma120","dif","dea"],"range":["#333333","#0a78d2","#800080","#008000","#808080","#22dddd","#333333","#0a78d2"]}}}},
{"data":{"values":[{"i":15.85,"i2":22.04,"top":1.0715,"bot":1.0646}]},"mark":{"type":"rect","fill":"#ffffff","stroke":"#bbbbbb","strokeWidth":1},"encoding":{"x2":{"field":"i2"},"y":{"field":"top","type":"quantitative"},"y2":{"field":"bot"}}},
{"data":{"values":[{"i":15.9,"p":1.0682,"t":"MA(MA10):1.286"}]},"mark":{"type":"text","color":"#222222","fontSize":13},"encoding":{"y":{"field":"p","type":"quantitative"},"text":{"field":"t"}}},
{"data":{"values":[{"i":-0.27,"p":1.1296,"t":"芯片ETF(日线)","tone":"dark"},{"i":4.82,"p":1.1296,"t":"1.059 1.83%","tone":"red"},{"i":9.31,"p":1.1296,"t":"▲0.019","tone":"red"},{"i":12.01,"p":1.1296,"t":"现量","tone":"dark"},{"i":13.65,"p":1.1296,"t":"61","tone":"green"},{"i":14.7,"p":1.1296,"t":"换手 2.38%","tone":"dark"},{"i":18.6,"p":1.1296,"t":"量比","tone":"dark"},{"i":20.23,"p":1.1296,"t":"1.32","tone":"red"}]},"mark":{"type":"text","clip":true},"encoding":{"y":{"field":"p","type":"quantitative"},"text":{"field":"t"},"color":{"condition":[{"test":"datum.tone=='red'","value":"#ff4040"},{"test":"datum.tone=='green'","value":"#399b3a"}],"value":"#333333"}}}
]},
{"width":377,"height":338,"data":{"name":"p3"},"encoding":{"x":{"field":"i","type":"quantitative","scale":{"domain":[-0.448,22.58],"padding":0,"nice":false,"zero":false,"round":true},"axis":{"values":[],"labels":false}}},"layer":[
{"data":{"values":[{}]},"mark":{"type":"rule","color":"#bbbbbb","xOffset":0.5},"encoding":{"x":{"datum":-0.448,"type":"quantitative"}}},
{"data":{"values":[{"i":11,"top":1.378,"bot":1.2025}]},"mark":{"type":"rule","color":"#b4b4b4","strokeDash":[1,2],"xOffset":0.5},"encoding":{"y":{"field":"top","type":"quantitative"},"y2":{"field":"bot"}}},
{"mark":{"type":"rule","xOffset":0.5,"yOffset":0.5,"y2Offset":0.5},"encoding":{"y":{"field":"l","type":"quantitative","scale":{"domain":[1.2025,1.3884],"nice":false,"zero":false,"round":true},"axis":{"orient":"right","values":[1.318],"format":".3f","labelPadding":46}},"y2":{"field":"h"},"stroke":{"field":"dir","type":"nominal","scale":{"domain":["up","down","flat"],"range":["#ff4040","#399b3a","#333333"]}}}},
{"mark":{"type":"bar","width":12,"strokeWidth":1,"xOffset":0.5,"yOffset":0.5,"y2Offset":0.5},"encoding":{"y":{"field":"o","type":"quantitative"},"y2":{"field":"c"},"stroke":{"field":"dir","type":"nominal","scale":{"domain":["up","down","flat"],"range":["#ff4040","#399b3a","#333333"]}},"fill":{"field":"dir","type":"nominal","scale":{"domain":["up","down","flat"],"range":["#fdfdfd","#399b3a","#333333"]}}}},
{"transform":[{"fold":["ma5","ma10","ma20","ma30","ma60","ma120"]}],"mark":"line","encoding":{"y":{"field":"value","type":"quantitative"},"color":{"field":"key","type":"nominal","scale":{"domain":["ma5","ma10","ma20","ma30","ma60","ma120","dif","dea"],"range":["#333333","#0a78d2","#800080","#008000","#808080","#22dddd","#333333","#0a78d2"]}}}},
{"data":{"values":[{"i":-0.28,"p":1.3851,"t":"计算机ETF(日线)","tone":"dark"},{"i":5.5,"p":1.3851,"t":"1.367 3.72%","tone":"red"},{"i":10.0,"p":1.3851,"t":"▲0.049","tone":"red"},{"i":12.69,"p":1.3851,"t":"现量","tone":"dark"},{"i":14.32,"p":1.3851,"t":"9","tone":"red"},{"i":14.9,"p":1.3851,"t":"换手 7.79%","tone":"dark"},{"i":18.78,"p":1.3851,"t":"量比","tone":"dark"},{"i":20.4,"p":1.3851,"t":"1.68","tone":"red"}]},"mark":{"type":"text","clip":true},"encoding":{"y":{"field":"p","type":"quantitative"},"text":{"field":"t"},"color":{"condition":[{"test":"datum.tone=='red'","value":"#ff4040"},{"test":"datum.tone=='green'","value":"#399b3a"}],"value":"#333333"}}}
]},
{"width":372,"height":112,"data":{"name":"m1"},"encoding":{"x":{"field":"i","type":"quantitative","scale":{"domain":[-0.266,22.61],"padding":0,"nice":false,"zero":false,"round":true},"axis":{"values":[11],"labels":false}}},"layer":[
{"mark":{"type":"rule","xOffset":0.5,"yOffset":0.5,"y2Offset":0.5},"encoding":{"y":{"field":"hist","type":"quantitative","scale":{"domain":[-58.5,13.76],"nice":false,"zero":false,"round":true},"axis":{"orient":"right","values":[0,-20],"format":".2f","labelPadding":46}},"y2":{"datum":0},"color":{"condition":{"test":"datum.hist>=0","value":"#ff4040"},"value":"#399b3a"}}},
{"transform":[{"fold":["dif","dea"]}],"mark":"line","encoding":{"y":{"field":"value","type":"quantitative"},"color":{"field":"key","type":"nominal","scale":{"domain":["ma5","ma10","ma20","ma30","ma60","ma120","dif","dea"],"range":["#333333","#0a78d2","#800080","#008000","#808080","#22dddd","#333333","#0a78d2"]}}}}
]},
{"width":375,"height":112,"data":{"name":"m2"},"encoding":{"x":{"field":"i","type":"quantitative","scale":{"domain":[-0.451,22.61],"padding":0,"nice":false,"zero":false,"round":true},"axis":{"values":[11],"labels":false}}},"layer":[
{"data":{"values":[{}]},"mark":{"type":"rule","color":"#bbbbbb","xOffset":0.5},"encoding":{"x":{"datum":-0.451,"type":"quantitative"}}},
{"mark":{"type":"rule","xOffset":0.5,"yOffset":0.5,"y2Offset":0.5},"encoding":{"y":{"field":"hist","type":"quantitative","scale":{"domain":[-0.0218,0.0118],"nice":false,"zero":false,"round":true},"axis":{"orient":"right","values":[0],"format":".3f","labelPadding":45}},"y2":{"datum":0},"color":{"condition":{"test":"datum.hist>=0","value":"#ff4040"},"value":"#399b3a"}}},
{"transform":[{"fold":["dif","dea"]}],"mark":"line","encoding":{"y":{"field":"value","type":"quantitative"},"color":{"field":"key","type":"nominal","scale":{"domain":["ma5","ma10","ma20","ma30","ma60","ma120","dif","dea"],"range":["#333333","#0a78d2","#800080","#008000","#808080","#22dddd","#333333","#0a78d2"]}}}}
]},
{"width":377,"height":112,"data":{"name":"m3"},"encoding":{"x":{"field":"i","type":"quantitative","scale":{"domain":[-0.448,22.58],"padding":0,"nice":false,"zero":false,"round":true},"axis":{"values":[11],"labels":false}}},"layer":[
{"data":{"values":[{}]},"mark":{"type":"rule","color":"#bbbbbb","xOffset":0.5},"encoding":{"x":{"datum":-0.448,"type":"quantitative"}}},
{"mark":{"type":"rule","xOffset":0.5,"yOffset":0.5,"y2Offset":0.5},"encoding":{"y":{"field":"hist","type":"quantitative","scale":{"domain":[-0.0352,0.0294],"nice":false,"zero":false,"round":true},"axis":{"orient":"right","values":[0,0.02],"format":".3f","labelPadding":46}},"y2":{"datum":0},"color":{"condition":{"test":"datum.hist>=0","value":"#ff4040"},"value":"#399b3a"}}},
{"transform":[{"fold":["dif","dea"]}],"mark":"line","encoding":{"y":{"field":"value","type":"quantitative"},"color":{"field":"key","type":"nominal","scale":{"domain":["ma5","ma10","ma20","ma30","ma60","ma120","dif","dea"],"range":["#333333","#0a78d2","#800080","#008000","#808080","#22dddd","#333333","#0a78d2"]}}}}
]},
{"width":372,"height":342,"data":{"name":"p4"},"encoding":{"x":{"field":"i","type":"quantitative","scale":{"domain":[-0.266,22.61],"padding":0,"nice":false,"zero":false,"round":true},"axis":{"values":[],"labels":false}}},"layer":[
{"data":{"values":[{"i":11,"top":1.1973,"bot":1.02075}]},"mark":{"type":"rule","color":"#b4b4b4","strokeDash":[1,2],"xOffset":0.5},"encoding":{"y":{"field":"top","type":"quantitative"},"y2":{"field":"bot"}}},
{"mark":{"type":"rule","xOffset":0.5,"yOffset":0.5,"y2Offset":0.5},"encoding":{"y":{"field":"l","type":"quantitative","scale":{"domain":[1.02075,1.20885],"nice":false,"zero":false,"round":true},"axis":{"orient":"right","values":[1.156,1.04],"format":".3f","labelPadding":46}},"y2":{"field":"h"},"stroke":{"field":"dir","type":"nominal","scale":{"domain":["up","down","flat"],"range":["#ff4040","#399b3a","#333333"]}}}},
{"mark":{"type":"bar","width":12,"strokeWidth":1,"clip":true,"xOffset":0.5,"yOffset":0.5,"y2Offset":0.5},"encoding":{"y":{"field":"o","type":"quantitative"},"y2":{"field":"c"},"stroke":{"field":"dir","type":"nominal","scale":{"domain":["up","down","flat"],"range":["#ff4040","#399b3a","#333333"]}},"fill":{"field":"dir","type":"nominal","scale":{"domain":["up","down","flat"],"range":["#fdfdfd","#399b3a","#333333"]}}}},
{"transform":[{"fold":["ma5","ma10","ma20","ma30","ma60","ma120"]}],"mark":"line","encoding":{"y":{"field":"value","type":"quantitative"},"color":{"field":"key","type":"nominal","scale":{"domain":["ma5","ma10","ma20","ma30","ma60","ma120","dif","dea"],"range":["#333333","#0a78d2","#800080","#008000","#808080","#22dddd","#333333","#0a78d2"]}}}},
{"data":{"values":[{"i":-0.27,"p":1.2041,"t":"人工智能AIETF(日线)","tone":"dark"},{"i":6.91,"p":1.2041,"t":"1.198 3.63%","tone":"red"},{"i":11.42,"p":1.2041,"t":"▲0.042","tone":"red"},{"i":14.12,"p":1.2041,"t":"现量","tone":"dark"},{"i":15.77,"p":1.2041,"t":"158","tone":"red"},{"i":17.2,"p":1.2041,"t":"换手 4.64%","tone":"dark"},{"i":21.12,"p":1.2041,"t":"量比","tone":"dark"}]},"mark":{"type":"text","clip":true},"encoding":{"y":{"field":"p","type":"quantitative"},"text":{"field":"t"},"color":{"condition":[{"test":"datum.tone=='red'","value":"#ff4040"},{"test":"datum.tone=='green'","value":"#399b3a"}],"value":"#333333"}}}
]},
{"width":375,"height":342,"data":{"name":"p5"},"encoding":{"x":{"field":"i","type":"quantitative","scale":{"domain":[-0.451,22.61],"padding":0,"nice":false,"zero":false,"round":true},"axis":{"values":[],"labels":false}}},"layer":[
{"data":{"values":[{}]},"mark":{"type":"rule","color":"#bbbbbb","xOffset":0.5},"encoding":{"x":{"datum":-0.451,"type":"quantitative"}}},
{"data":{"values":[{"i":11,"top":1.0044,"bot":0.9402}]},"mark":{"type":"rule","color":"#b4b4b4","strokeDash":[1,2],"xOffset":0.5},"encoding":{"y":{"field":"top","type":"quantitative"},"y2":{"field":"bot"}}},
{"mark":{"type":"rule","xOffset":0.5,"yOffset":0.5,"y2Offset":0.5},"encoding":{"y":{"field":"l","type":"quantitative","scale":{"domain":[0.9402,1.0086],"nice":false,"zero":false,"round":true},"axis":{"orient":"right","values":[0.972],"format":".3f","labelPadding":45}},"y2":{"field":"h"},"stroke":{"field":"dir","type":"nominal","scale":{"domain":["up","down","flat"],"range":["#ff4040","#399b3a","#333333"]}}}},
{"mark":{"type":"bar","width":12,"strokeWidth":1,"xOffset":0.5,"yOffset":0.5,"y2Offset":0.5},"encoding":{"y":{"field":"o","type":"quantitative"},"y2":{"field":"c"},"stroke":{"field":"dir","type":"nominal","scale":{"domain":["up","down","flat"],"range":["#ff4040","#399b3a","#333333"]}},"fill":{"field":"dir","type":"nominal","scale":{"domain":["up","down","flat"],"range":["#fdfdfd","#399b3a","#333333"]}}}},
{"transform":[{"fold":["ma5","ma10","ma20","ma30","ma60","ma120"]}],"mark":"line","encoding":{"y":{"field":"value","type":"quantitative"},"color":{"field":"key","type":"nominal","scale":{"domain":["ma5","ma10","ma20","ma30","ma60","ma120","dif","dea"],"range":["#333333","#0a78d2","#800080","#008000","#808080","#22dddd","#333333","#0a78d2"]}}}},
{"data":{"values":[{"i":-0.27,"p":1.0069,"t":"电子ETF(日线)","tone":"dark"},{"i":4.82,"p":1.0069,"t":"0.992 2.06%","tone":"red"},{"i":9.31,"p":1.0069,"t":"▲0.020","tone":"red"},{"i":12.01,"p":1.0069,"t":"现量","tone":"dark"},{"i":13.65,"p":1.0069,"t":"225","tone":"green"},{"i":15.11,"p":1.0069,"t":"换手 2.70%","tone":"dark"},{"i":19.0,"p":1.0069,"t":"量比","tone":"dark"},{"i":20.69,"p":1.0069,"t":"1.41","tone":"red"}]},"mark":{"type":"text","clip":true},"encoding":{"y":{"field":"p","type":"quantitative"},"text":{"field":"t"},"color":{"condition":[{"test":"datum.tone=='red'","value":"#ff4040"},{"test":"datum.tone=='green'","value":"#399b3a"}],"value":"#333333"}}}
]},
{"width":377,"height":342,"data":{"name":"p6"},"encoding":{"x":{"field":"i","type":"quantitative","scale":{"domain":[-0.448,22.58],"padding":0,"nice":false,"zero":false,"round":true},"axis":{"values":[],"labels":false}}},"layer":[
{"data":{"values":[{}]},"mark":{"type":"rule","color":"#bbbbbb","xOffset":0.5},"encoding":{"x":{"datum":-0.448,"type":"quantitative"}}},
{"data":{"values":[{"i":11,"top":1.0088,"bot":0.8804}]},"mark":{"type":"rule","color":"#b4b4b4","strokeDash":[1,2],"xOffset":0.5},"encoding":{"y":{"field":"top","type":"quantitative"},"y2":{"field":"bot"}}},
{"mark":{"type":"rule","xOffset":0.5,"yOffset":0.5,"y2Offset":0.5},"encoding":{"y":{"field":"l","type":"quantitative","scale":{"domain":[0.8804,1.0172],"nice":false,"zero":false,"round":true},"axis":{"orient":"right","values":[0.995,0.896],"format":".3f","labelPadding":46}},"y2":{"field":"h"},"stroke":{"field":"dir","type":"nominal","scale":{"domain":["up","down","flat"],"range":["#ff4040","#399b3a","#333333"]}}}},
{"mark":{"type":"bar","width":12,"strokeWidth":1,"xOffset":0.5,"yOffset":0.5,"y2Offset":0.5},"encoding":{"y":{"field":"o","type":"quantitative"},"y2":{"field":"c"},"stroke":{"field":"dir","type":"nominal","scale":{"domain":["up","down","flat"],"range":["#ff4040","#399b3a","#333333"]}},"fill":{"field":"dir","type":"nominal","scale":{"domain":["up","down","flat"],"range":["#fdfdfd","#399b3a","#333333"]}}}},
{"transform":[{"fold":["ma5","ma10","ma20","ma30","ma60","ma120"]}],"mark":"line","encoding":{"y":{"field":"value","type":"quantitative"},"color":{"field":"key","type":"nominal","scale":{"domain":["ma5","ma10","ma20","ma30","ma60","ma120","dif","dea"],"range":["#333333","#0a78d2","#800080","#008000","#808080","#22dddd","#333333","#0a78d2"]}}}},
{"data":{"values":[{"i":-0.24,"p":1.0137,"t":"5GETF(日线)","tone":"dark"},{"i":4.3,"p":1.0137,"t":"1.010 1.51%","tone":"red"},{"i":8.78,"p":1.0137,"t":"▲0.015","tone":"red"},{"i":11.46,"p":1.0137,"t":"现量","tone":"dark"},{"i":13.09,"p":1.0137,"t":"209","tone":"red"},{"i":14.52,"p":1.0137,"t":"换手 0.94%","tone":"dark"},{"i":18.41,"p":1.0137,"t":"量比","tone":"dark"},{"i":20.03,"p":1.0137,"t":"1.30","tone":"red"}]},"mark":{"type":"text","clip":true},"encoding":{"y":{"field":"p","type":"quantitative"},"text":{"field":"t"},"color":{"condition":[{"test":"datum.tone=='red'","value":"#ff4040"},{"test":"datum.tone=='green'","value":"#399b3a"}],"value":"#333333"}}}
]},
{"width":372,"height":110,"data":{"name":"m4"},"encoding":{"x":{"field":"i","type":"quantitative","scale":{"domain":[-0.266,22.61],"padding":0,"nice":false,"zero":false,"round":true},"axis":{"values":[11],"labels":false}}},"layer":[
{"mark":{"type":"rule","xOffset":0.5,"yOffset":0.5,"y2Offset":0.5},"encoding":{"y":{"field":"hist","type":"quantitative","scale":{"domain":[-0.0255,0.024],"nice":false,"zero":false,"round":true},"axis":{"orient":"right","values":[0,0.015],"format":".3f","labelPadding":46}},"y2":{"datum":0},"color":{"condition":{"test":"datum.hist>=0","value":"#ff4040"},"value":"#399b3a"}}},
{"transform":[{"fold":["dif","dea"]}],"mark":"line","encoding":{"y":{"field":"value","type":"quantitative"},"color":{"field":"key","type":"nominal","scale":{"domain":["ma5","ma10","ma20","ma30","ma60","ma120","dif","dea"],"range":["#333333","#0a78d2","#800080","#008000","#808080","#22dddd","#333333","#0a78d2"]}}}}
]},
{"width":375,"height":110,"data":{"name":"m5"},"encoding":{"x":{"field":"i","type":"quantitative","scale":{"domain":[-0.451,22.61],"padding":0,"nice":false,"zero":false,"round":true},"axis":{"values":[11],"labels":false}}},"layer":[
{"data":{"values":[{}]},"mark":{"type":"rule","color":"#bbbbbb","xOffset":0.5},"encoding":{"x":{"datum":-0.451,"type":"quantitative"}}},
{"mark":{"type":"rule","xOffset":0.5,"yOffset":0.5,"y2Offset":0.5},"encoding":{"y":{"field":"hist","type":"quantitative","scale":{"domain":[-0.0267,0.0173],"nice":false,"zero":false,"round":true},"axis":{"orient":"right","values":[0],"format":".3f","labelPadding":45}},"y2":{"datum":0},"color":{"condition":{"test":"datum.hist>=0","value":"#ff4040"},"value":"#399b3a"}}},
{"transform":[{"fold":["dif","dea"]}],"mark":"line","encoding":{"y":{"field":"value","type":"quantitative"},"color":{"field":"key","type":"nominal","scale":{"domain":["ma5","ma10","ma20","ma30","ma60","ma120","dif","dea"],"range":["#333333","#0a78d2","#800080","#008000","#808080","#22dddd","#333333","#0a78d2"]}}}}
]},
{"width":377,"height":110,"data":{"name":"m6"},"encoding":{"x":{"field":"i","type":"quantitative","scale":{"domain":[-0.448,22.58],"padding":0,"nice":false,"zero":false,"round":true},"axis":{"values":[11],"labels":false}}},"layer":[
{"data":{"values":[{}]},"mark":{"type":"rule","color":"#bbbbbb","xOffset":0.5},"encoding":{"x":{"datum":-0.448,"type":"quantitative"}}},
{"mark":{"type":"rule","xOffset":0.5,"yOffset":0.5,"y2Offset":0.5},"encoding":{"y":{"field":"hist","type":"quantitative","scale":{"domain":[-0.02405,0.0218],"nice":false,"zero":false,"round":true},"axis":{"orient":"right","values":[0,0.015],"format":".3f","labelPadding":46}},"y2":{"datum":0},"color":{"condition":{"test":"datum.hist>=0","value":"#ff4040"},"value":"#399b3a"}}},
{"transform":[{"fold":["dif","dea"]}],"mark":"line","encoding":{"y":{"field":"value","type":"quantitative"},"color":{"field":"key","type":"nominal","scale":{"domain":["ma5","ma10","ma20","ma30","ma60","ma120","dif","dea"],"range":["#333333","#0a78d2","#800080","#008000","#808080","#22dddd","#333333","#0a78d2"]}}}}
]}
]
}
